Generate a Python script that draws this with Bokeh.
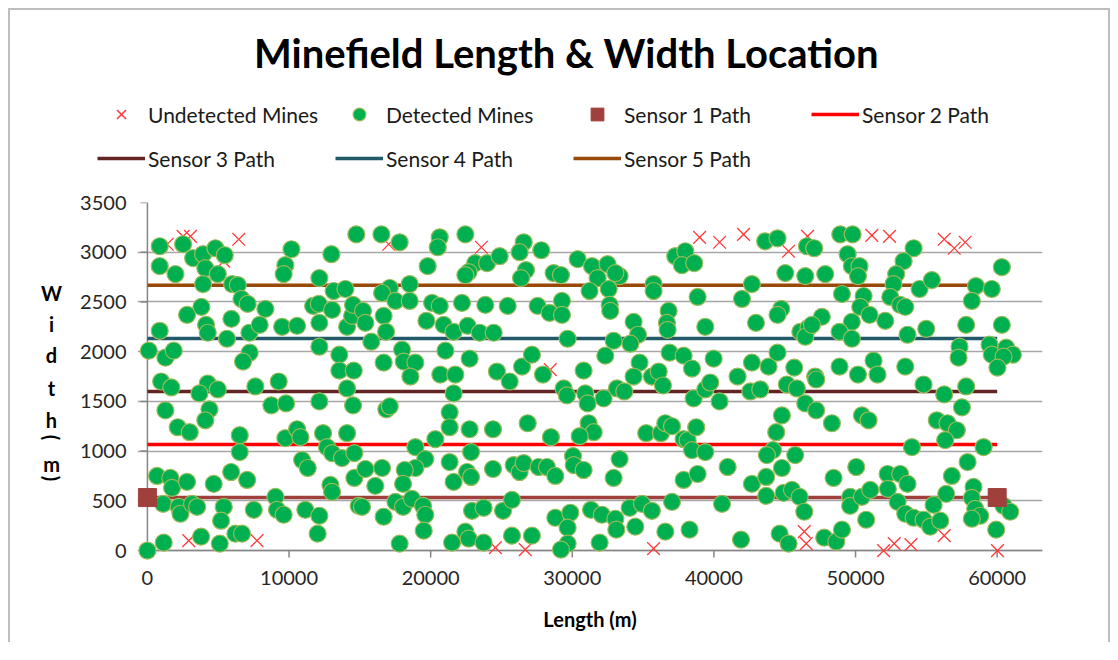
from math import pi
from bokeh.plotting import figure
from bokeh.layouts import column, row
from bokeh.models import Range1d, FixedTicker, Legend, LegendItem, Label, NumeralTickFormatter
from bokeh.embed import file_html
from bokeh.resources import INLINE

TITLE = "Minefield Length & Width Location"
X_LABEL = "Length (m)"
Y_LABEL_CHARS = ["W", "i", "d", "t", "h", "(", "m", ")"]

x_ticks = [0, 10000, 20000, 30000, 40000, 50000, 60000]
y_ticks = [0, 500, 1000, 1500, 2000, 2500, 3000, 3500]

sensor_names = ["Sensor 1 Path", "Sensor 2 Path", "Sensor 3 Path", "Sensor 4 Path", "Sensor 5 Path"]
sensor_widths = [533, 1067, 1600, 2133, 2667]
sensor_length = [0, 60000]
sensor_colors = ["#A0403D", "#FF0000", "#632523", "#215968", "#984807"]

undetected_mines = [
    (0, 0), (1400, 3080), (2520, 3160), (3040, 3160), (5390, 2910), (6450, 3130),
    (17040, 3080), (23580, 3050), (26330, 3010), (28450, 1820), (38990, 3150),
    (40400, 3100), (42090, 3180), (45270, 3010), (46610, 3160), (51150, 3170),
    (52400, 3160), (56260, 3130), (56970, 3040), (57740, 3100), (2920, 100),
    (7740, 100), (24570, 30), (26680, 10), (35740, 20), (46380, 190), (46520, 70),
    (51980, 0), (52730, 70), (53910, 60), (56260, 150), (60020, 0),
]

detected_mines = [
    (870, 3060), (870, 2860), (1980, 2780), (2520, 3080), (3230, 2940), (3930, 2980),
    (4800, 3040), (5460, 2970), (4090, 2840), (4970, 2780), (3930, 2680), (5980, 2680),
    (6380, 2670), (6640, 2530), (7080, 2480), (8330, 2430), (3810, 2450), (2800, 2370),
    (4140, 2270), (4260, 2190), (5930, 2330), (5620, 2130), (7200, 2190), (7930, 2270),
    (7220, 1990), (6750, 1900), (870, 2210), (100, 2010), (1270, 1940), (1860, 2010),
    (9510, 2250), (10570, 2260), (10170, 3030), (9740, 2870), (9620, 2780), (12140, 2740),
    (12990, 2980), (13150, 2610), (13980, 2630), (11700, 2460), (12100, 2480), (13040, 2420),
    (12140, 2290), (14100, 2250), (14450, 2360), (14520, 2470), (12140, 2050), (13550, 1970),
    (13550, 1810), (14570, 1810), (14750, 3180),
    (16520, 3180), (17810, 3100), (20640, 3150), (20500, 3050), (22450, 3180), (19790, 2860),
    (23150, 2890), (23980, 2890), (24870, 2960), (22680, 2800), (22450, 2770), (26570, 3100),
    (26280, 3000), (27810, 3020), (26730, 2820), (26380, 2740), (28680, 2790), (29200, 2770),
    (30380, 2930), (17110, 2640), (16570, 2590), (18520, 2680), (17510, 2510), (18520, 2510),
    (15220, 2410), (15390, 2290), (16680, 2360), (16850, 2200), (15810, 2100), (20100, 2490),
    (20640, 2460), (19700, 2310), (20920, 2270), (21620, 2200), (22210, 2490), (22610, 2260),
    (23460, 2190), (24450, 2190), (23860, 2470), (25440, 2460), (27550, 2460), (28400, 2390),
    (29270, 2510), (29270, 2370), (29670, 2130), (17980, 2020), (18100, 1900), (18920, 1890),
    (21040, 2010), (22750, 1930), (16680, 1890), (18570, 1750), (20680, 1770), (21740, 1770),
    (24680, 1800), (26450, 1850), (27150, 1970), (27930, 1770),
    (31390, 2860), (32490, 2880), (33340, 2760), (33040, 2790), (31790, 2740), (31220, 2610),
    (32570, 2630), (32640, 2470), (32680, 2410), (37270, 2960), (37980, 3010), (37740, 2870),
    (38610, 2890), (35740, 2680), (35740, 2610), (38850, 2550), (36800, 2410), (36680, 2290),
    (36730, 2220), (39390, 2250), (34330, 2300), (34640, 2170), (34100, 2080), (32920, 2110),
    (32330, 1960), (30800, 1810), (34750, 1890), (34330, 1750), (35620, 1750), (36100, 1800),
    (36870, 1990), (37860, 1960), (38450, 1830), (39980, 1930), (41670, 1750), (42680, 1890),
    (43860, 1850), (44490, 1990), (45670, 1840), (42680, 2680), (41980, 2530), (42970, 2290),
    (43620, 3110), (44490, 3140), (45040, 2790), (44750, 2430), (44490, 2370), (46100, 2200),
    (46570, 3060), (47080, 3040), (48920, 3180), (49790, 3180), (49440, 2980), (49740, 2860),
    (50280, 2860), (50170, 2760), (54100, 3040), (53390, 2910), (52870, 2780), (52680, 2680),
    (52450, 2550), (53150, 2470), (53510, 2450), (54520, 2630), (55390, 2720), (60330, 2850),
    (58500, 2660), (59620, 2630), (58210, 2510), (46450, 2760), (47860, 2780), (49040, 2580),
    (50570, 2560), (50330, 2450), (50990, 2370), (52100, 2310), (49740, 2300), (48870, 2200),
    (49740, 2130), (47620, 2350), (46680, 2240), (46450, 2150), (46920, 2270), (53670, 2170),
    (54990, 2230), (57810, 2270), (60330, 2270), (57340, 2050), (57270, 1940), (59460, 2070),
    (59620, 1970), (60640, 2040), (61110, 1970), (60450, 1950), (60020, 1840), (47150, 1750),
    (48870, 1850), (51270, 1910), (51550, 1770), (50170, 1770), (53510, 1850),
    (970, 1700), (1690, 1640), (4260, 1680), (4970, 1620), (3670, 1580), (7620, 1650),
    (9270, 1700), (8750, 1460), (9790, 1480), (12140, 1500), (14100, 1630), (14520, 1460),
    (1270, 1410), (4380, 1420), (4090, 1310), (2140, 1240), (2990, 1190), (6520, 1160),
    (6520, 990), (9740, 1130), (10570, 1220), (10800, 1140), (12400, 1180), (14100, 1180),
    (12680, 1040), (13040, 980), (13740, 930), (14610, 980), (10920, 910), (11320, 830),
    (680, 750), (1620, 730), (1740, 630), (2800, 690), (4680, 670), (5910, 790),
    (7040, 710), (12920, 660), (13040, 590), (14610, 730), (1110, 470), (2210, 440),
    (2330, 370), (3150, 470), (3510, 440), (5390, 440), (5200, 300), (7510, 410),
    (9040, 540), (9150, 410), (9620, 360), (11150, 410), (12140, 350), (12020, 170),
    (14920, 450), (1150, 80), (3790, 140), (5110, 70), (6210, 170), (6680, 170), (0, 0),
    (21620, 1580), (25580, 1700), (29390, 1630), (29620, 1560), (16870, 1420), (17110, 1450),
    (21340, 1390), (21340, 1240), (22750, 1220), (24400, 1220), (26850, 1280), (28490, 1140),
    (20330, 1120), (18920, 1040), (19620, 920), (18920, 830), (18170, 810), (22850, 990),
    (21340, 890), (15390, 820), (16570, 830), (16090, 650), (18050, 670), (21620, 690),
    (22570, 790), (22850, 740), (24400, 820), (25860, 860), (26280, 790), (26570, 880),
    (27620, 840), (28210, 840), (28800, 750), (30050, 950), (30100, 860), (15150, 440),
    (16680, 340), (17510, 490), (18050, 440), (18680, 520), (19460, 450), (19620, 360),
    (19510, 200), (17810, 70), (21510, 80), (22450, 190), (22680, 120), (23740, 80),
    (22920, 400), (23740, 430), (25110, 400), (25740, 510), (25740, 150), (27150, 150),
    (28800, 330), (29860, 380), (29670, 230), (29670, 70), (29200, 10),
    (36400, 1660), (33150, 1630), (33670, 1600), (32210, 1530), (30920, 1580), (31080, 1480),
    (38570, 1530), (39390, 1620), (39740, 1690), (40400, 1500), (42570, 1600), (43270, 1620),
    (45150, 1670), (45860, 1630), (31150, 1280), (31510, 1190), (30520, 1150), (35220, 1180),
    (36260, 1180), (36570, 1280), (37040, 1250), (37860, 1120), (38140, 1110), (38450, 1010),
    (38750, 1240), (39390, 990), (44800, 1360), (44400, 1190), (30800, 810), (33340, 920),
    (32920, 730), (37860, 710), (38850, 770), (40970, 840), (42680, 670), (43690, 740),
    (44170, 1010), (43740, 960), (44800, 830), (43690, 550), (44920, 580), (45510, 610),
    (45740, 960), (31320, 410), (32090, 360), (33040, 320), (33110, 210), (34050, 430),
    (34920, 470), (35620, 400), (34450, 240), (31930, 80), (36570, 190), (37040, 490),
    (38280, 210), (40570, 470), (41910, 110), (44640, 170), (45270, 70),
    (47220, 1720), (54800, 1670), (56260, 1570), (57810, 1650), (57510, 1440), (46450, 1480),
    (47220, 1410), (48330, 1280), (50450, 1360), (50920, 1310), (55740, 1310), (56490, 1280),
    (57150, 1210), (56330, 1110), (53980, 1040), (59040, 1040), (57910, 890), (50050, 840),
    (48450, 730), (52260, 770), (53150, 770), (53670, 670), (52280, 620), (52970, 490),
    (56800, 750), (56400, 570), (55510, 460), (58330, 640), (58210, 530), (58450, 420),
    (58800, 350), (58210, 320), (46050, 540), (46380, 390), (49620, 540), (49620, 450),
    (50450, 540), (51040, 610), (50750, 310), (53510, 370), (54100, 330), (54800, 310),
    (55270, 240), (55980, 300), (47790, 130), (48640, 90), (49040, 210), (59930, 210),
    (60450, 450), (60920, 390),
]

undetected_x = [m[0] for m in undetected_mines]
undetected_y = [m[1] for m in undetected_mines]
detected_x = [m[0] for m in detected_mines]
detected_y = [m[1] for m in detected_mines]

FONT = "Lato"
AXIS_GREY = "#868686"
UNDET_STYLE = dict(marker="x", size=18, line_color="#FF3B3B", line_width=1.3)
DET_STYLE = dict(marker="circle", size=17, fill_color="#00B050", line_color="#9BBB59", line_width=1.2)
SQ_STYLE = dict(marker="square", size=18, fill_color=sensor_colors[0], line_color=sensor_colors[0])


def bare(width, height):
    # a figure with no axes whose frame fills the canvas; its ranges lie away from the data
    f = figure(width=width, height=height, output_backend="svg", toolbar_location=None,
               x_axis_location=None, y_axis_location=None, x_range=Range1d(-20, -10),
               y_range=Range1d(-20, -10), min_border=0, title=None)
    f.outline_line_color = None
    f.grid.visible = False
    return f


# ---------- header: title + legend ----------
header = bare(1098, 172)
h_undet = header.scatter(undetected_x, undetected_y, marker="x", size=18,
                         line_color="#FF3B3B", line_width=1.6)
h_det = header.scatter(detected_x, detected_y, **DET_STYLE)
h_sq = header.scatter(sensor_length, [sensor_widths[0]] * 2, **SQ_STYLE)
h_lines = [header.line(sensor_length, [w, w], line_color=c, line_width=3.5)
           for w, c in zip(sensor_widths, sensor_colors)]
items = [
    LegendItem(label="Undetected Mines", renderers=[h_undet]),
    LegendItem(label="Detected Mines", renderers=[h_det]),
    LegendItem(label=sensor_names[0], renderers=[h_sq]),
    LegendItem(label=sensor_names[1], renderers=[h_lines[1]]),
    LegendItem(label=sensor_names[2], renderers=[h_lines[2]]),
    LegendItem(label=sensor_names[3], renderers=[h_lines[3]]),
    LegendItem(label=sensor_names[4], renderers=[h_lines[4]]),
]
legend = Legend(items=items, ncols=4, orientation="horizontal", location=(87, 8),
                border_line_color=None, background_fill_alpha=0, padding=0, margin=0,
                spacing=12, glyph_width=48, glyph_height=32, label_height=32,
                label_width=175, label_standoff=3, label_text_font=FONT,
                label_text_font_size="21px", label_text_color="#1A1A1A")
header.add_layout(legend, "center")
header.add_layout(Label(x=556, y=130, x_units="screen", y_units="screen", text=TITLE,
                        text_font=FONT, text_font_style="bold", text_font_size="40px",
                        text_align="center", text_baseline="middle", text_color="#000000"))

# ---------- stacked y-axis title (frame aligned with the chart frame) ----------
ylab = bare(60, 460)
letter_y = [268, 237, 206, 173, 141, 123, 97, 82]
for ch, yy in zip(Y_LABEL_CHARS, letter_y):
    ang = -pi / 2 if ch in "()" else 0
    ylab.add_layout(Label(x=41, y=yy, x_units="screen", y_units="screen", text=ch, angle=ang,
                          text_font=FONT, text_font_style="bold", text_font_size="20px",
                          text_align="center", text_baseline="middle", text_color="#000000"))

# ---------- chart ----------
p = figure(width=1038, height=460, output_backend="svg", toolbar_location=None,
           x_range=Range1d(-700, 63200), y_range=Range1d(-100, 3500),
           min_border_left=67, min_border_right=66, min_border_top=20, min_border_bottom=82,
           title=None)
p.outline_line_color = None

for ax in (p.xaxis, p.yaxis):
    ax.axis_line_color = None
    ax.major_tick_line_color = None
    ax.minor_tick_line_color = None
    ax.major_tick_out = 0
    ax.major_tick_in = 0
    ax.major_label_text_font = FONT
    ax.major_label_text_font_size = "20px"
    ax.major_label_text_color = "#262626"
    ax.formatter = NumeralTickFormatter(format="0")
p.xaxis.ticker = FixedTicker(ticks=x_ticks)
p.yaxis.ticker = FixedTicker(ticks=y_ticks)
p.xaxis.major_label_standoff = 10
p.yaxis.major_label_standoff = 11
p.xaxis.axis_label = X_LABEL
p.xaxis.axis_label_text_font = FONT
p.xaxis.axis_label_text_font_style = "bold"
p.xaxis.axis_label_text_font_size = "20px"
p.xaxis.axis_label_text_color = "#000000"
p.xaxis.axis_label_standoff = 19

p.xgrid.visible = False
p.ygrid.ticker = FixedTicker(ticks=y_ticks)
p.ygrid.grid_line_color = "#A6A6A6"
p.ygrid.grid_line_width = 1.5

# axis lines and outside tick marks at the zero crossing
p.segment(x0=[0, 0], y0=[0, 0], x1=[63200, 0], y1=[0, 3500], line_color=AXIS_GREY, line_width=1.5)
p.segment(x0=x_ticks, y0=[0] * len(x_ticks), x1=x_ticks, y1=[-70] * len(x_ticks),
          line_color=AXIS_GREY, line_width=1.5)
p.segment(x0=[0] * len(y_ticks), y0=y_ticks, x1=[-490] * len(y_ticks), y1=y_ticks,
          line_color=AXIS_GREY, line_width=1.5)

for w, c in zip(sensor_widths, sensor_colors):
    p.line(sensor_length, [w, w], line_color=c, line_width=3.5)
p.scatter(undetected_x, undetected_y, **UNDET_STYLE)
p.scatter(detected_x, detected_y, **DET_STYLE)
p.scatter(sensor_length, [sensor_widths[0]] * 2, **SQ_STYLE)

layout = column(header, row(ylab, p))
layout.styles = {"margin-left": "8px", "margin-top": "8px",
                 "border-left": "2px solid #BDBDBD", "border-top": "2px solid #BDBDBD",
                 "border-right": "2px solid #BDBDBD"}

open("out.html", "w").write(file_html(layout, INLINE))
